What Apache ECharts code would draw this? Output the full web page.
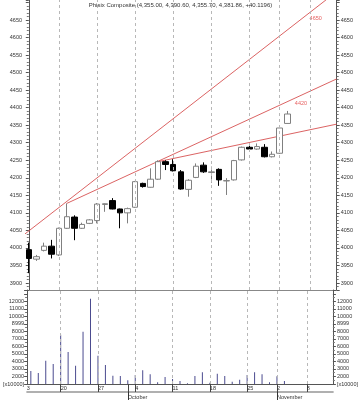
<!DOCTYPE html>
<html><head><meta charset="utf-8">
<script src="https://cdn.jsdelivr.net/npm/echarts@6/dist/echarts.min.js"></script>
<style>html,body{margin:0;padding:0;background:#fff}#c{width:361px;height:400px}</style>
</head><body><div id="c"></div>
<script>
const titleText = 'Phisix Composite (4,355.00, 4,390.60, 4,355.70, 4,381.86, +40.1196)';
const dates = ['Sep 14','Sep 15','Sep 16','Sep 17','Sep 20','Sep 21','Sep 22','Sep 23','Sep 24',
  'Sep 27','Sep 28','Sep 29','Sep 30','Oct 1','Oct 4','Oct 5','Oct 6','Oct 7','Oct 8',
  'Oct 11','Oct 12','Oct 13','Oct 14','Oct 15','Oct 18','Oct 19','Oct 20','Oct 21','Oct 22',
  'Oct 26','Oct 27','Oct 28','Oct 29','Nov 2','Nov 3','Nov 4','Nov 5','Nov 8','Nov 9','Nov 10','Nov 11'];
const opens  = [3995,3968,3993,4005,3980,4056,4088,4056,4070,4078,4124,4135,4111,4100,4116,4184,4173,4196,4246,4238,4217,4167,4201,4236,4215,4224,4191,4194,4251,4287,4282,4287,4260,4270,4355];
const highs  = [4015,3980,4015,4023,4058,4127,4093,4072,4082,4128,4127,4142,4112,4115,4191,4186,4227,4250,4250,4253,4222,4196,4241,4244,4232,4227,4199,4251,4289,4293,4298,4296,4275,4345,4390.6];
const lows   = [3928,3963,3990,3970,3977,4054,4022,4054,4068,4070,4103,4110,4056,4070,4114,4172,4172,4194,4222,4218,4166,4146,4199,4214,4186,4177,4151,4192,4249,4275,4280,4258,4258,4268,4355.7];
const closes = [3970,3975,4005,3982,4056,4089,4056,4067,4080,4125,4126,4111,4100,4112,4189,4175,4196,4246,4238,4220,4168,4193,4233,4217,4217,4194,4192,4249,4287,4282,4289,4260,4267,4342,4381.86];
const volumes = [2730,2460,4100,3660,7560,5250,3430,7950,12340,4760,3530,2100,2060,1490,2200,2820,2290,1230,1930,1670,1400,1100,2060,2560,1170,2360,2060,1290,1560,2200,2560,2300,1240,2020,1400];
const weekLabels = {'Sep 14':'3','Sep 20':'20','Sep 27':'27','Oct 4':'4','Oct 11':'11','Oct 18':'18','Oct 26':'25','Nov 2':'2','Nov 8':'8'};
const monthLabels = {'Oct 1':'October','Nov 2':'November'};
const gridDates = ['Sep 20','Sep 27','Oct 4','Oct 11','Oct 18','Oct 26','Nov 2','Nov 8'];
const priceTicks = [3900,3950,4000,4050,4100,4150,4200,4250,4300,4350,4400,4450,4500,4550,4600,4650];
const volumeTicks = [2000,3000,4000,5000,6000,7000,8000,9000,10000,11000,12000];
const volumeTickText = {1000:'[x10000]', 9000:'8999'};
const trendLine1 = [[-0.5,4040],[40.5,4731]];
const trendLine2 = [[5,4127],[40.5,4482]];
const trendLine3 = [[16.8,4245],[40.5,4353]];
const targetLabels = [[37.74,4654,'4650'],[35.8,4413,'4420']];

const FONT = 'Liberation Sans, Arial, sans-serif';
const FS = 5.5;
const candleData = opens.map((o,i)=>[o, closes[i], lows[i], highs[i]]);
const isWeek = (i)=> weekLabels[dates[i]] !== undefined && i !== 0;
const isMonth = (i)=> monthLabels[dates[i]] !== undefined;

const priceAxis = (pos)=>({
  type:'value', gridIndex:0, position:pos, min:3880, max:4707, splitNumber:16, minInterval:50, maxInterval:50,
  scale:true,
  axisLine:{show:true, lineStyle:{color:'#555', width:1}},
  axisTick:{show:true, length:3, lineStyle:{color:'#555'}},
  minorTick:{show:true, splitNumber:5, length:2, lineStyle:{color:'#777'}},
  splitLine:{show:false},
  axisLabel:{fontSize:FS, color:'#333', fontFamily:FONT, margin: pos==='left'?3:4, showMinLabel:false, showMaxLabel:false,
    formatter:(v)=> priceTicks.indexOf(v)>=0 ? String(v) : ''}
});
const volAxis = (pos)=>({
  type:'value', gridIndex:1, position:pos, min:1000, max:13500, interval:1000,
  axisLine:{show:true, lineStyle:{color:'#555', width:1}},
  axisTick:{show:true, length:3, lineStyle:{color:'#555'}},
  minorTick:{show:true, splitNumber:2, length:2, lineStyle:{color:'#777'}},
  splitLine:{show:false},
  axisLabel:{fontSize:FS, color:'#333', fontFamily:FONT, margin: pos==='left'?3:4, showMaxLabel:false,
    formatter:(v)=> volumeTickText[v] !== undefined ? volumeTickText[v] : (volumeTicks.indexOf(v)>=0 ? String(v) : '')}
});
const gridMarks = {
  silent:true, symbol:['none','none'], label:{show:false}, animation:false,
  lineStyle:{color:'#b8b8b8', type:[3,3], width:1},
  data: gridDates.map(d=>({xAxis:d}))
};
const trendStyle = {color:'#d23b3b', width:0.8};

const chart = echarts.init(document.getElementById('c'), null, {renderer:'canvas'});
chart.setOption({
  animation:false,
  backgroundColor:'#fff',
  textStyle:{fontFamily:FONT},
  title:{text:titleText, left:'center', top:2, padding:0,
    textStyle:{fontSize:6, fontWeight:'normal', color:'#333', fontFamily:FONT}},
  grid:[
    {left:25, right:24.3, top:0, height:290},
    {left:25, right:24.3, top:290, height:94}
  ],
  xAxis:[
    {type:'category', gridIndex:0, data:dates, boundaryGap:true,
      axisLine:{show:true, lineStyle:{color:'#888', width:1}}, axisTick:{show:false}, axisLabel:{show:false}, splitLine:{show:false}},
    {type:'category', gridIndex:1, data:dates, boundaryGap:true,
      axisLine:{show:true, lineStyle:{color:'#555', width:1}},
      axisTick:{show:true, alignWithLabel:true, length:8, interval:(i)=>isWeek(i)||isMonth(i), lineStyle:{color:'#444'}},
      axisLabel:{show:true, interval:(i)=>weekLabels[dates[i]]!==undefined, align:'left', margin:1, fontSize:FS, color:'#333',
        formatter:(v,i)=> i===0 ? '{n|'+weekLabels[v]+'}' : (weekLabels[v]||''),
        rich:{n:{fontSize:FS, color:'#333', padding:[0,0,0,-4]}}},
      splitLine:{show:false}},
    {type:'value', gridIndex:0, min:-0.5, max:40.5, show:false},
    {type:'category', gridIndex:1, data:dates, boundaryGap:true, offset:8, position:'bottom',
      axisLine:{show:true, lineStyle:{color:'#b0b0b0', width:2}},
      axisTick:{show:true, alignWithLabel:true, length:8, interval:(i)=>isMonth(i), lineStyle:{color:'#333'}},
      axisLabel:{show:true, interval:(i)=>isMonth(i), align:'left', margin:2, fontSize:FS, color:'#333',
        formatter:(v)=> monthLabels[v]||''},
      splitLine:{show:false}}
  ],
  yAxis:[priceAxis('left'), priceAxis('right'), volAxis('left'), volAxis('right')],
  series:[
    {type:'line', xAxisIndex:0, yAxisIndex:0, data:[], z:1, markLine:gridMarks},
    {type:'line', xAxisIndex:1, yAxisIndex:2, data:[], z:1, markLine:gridMarks},
    {type:'line', xAxisIndex:2, yAxisIndex:0, data:trendLine1, symbol:'none', lineStyle:trendStyle, z:2, clip:true},
    {type:'line', xAxisIndex:2, yAxisIndex:0, data:trendLine2, symbol:'none', lineStyle:trendStyle, z:2, clip:true},
    {type:'line', xAxisIndex:2, yAxisIndex:0, data:trendLine3, symbol:'none', lineStyle:trendStyle, z:2, clip:true},
    {type:'candlestick', xAxisIndex:0, yAxisIndex:0, data:candleData, barWidth:6, z:3,
      itemStyle:{color:'#ffffff', color0:'#000000', borderColor:'#808080', borderColor0:'#000000', borderWidth:1}},
    {type:'bar', xAxisIndex:1, yAxisIndex:2, data:volumes, barWidth:1, z:3,
      itemStyle:{color:'#4b4b8f'}},
    {type:'scatter', xAxisIndex:2, yAxisIndex:0, symbolSize:0, z:4,
      data:targetLabels.map(t=>({value:[t[0],t[1]], name:t[2]})),
      label:{show:true, position:'inside', formatter:(p)=>p.name, color:'#e03535', fontSize:FS, fontFamily:FONT}}
  ]
});
</script></body></html>
